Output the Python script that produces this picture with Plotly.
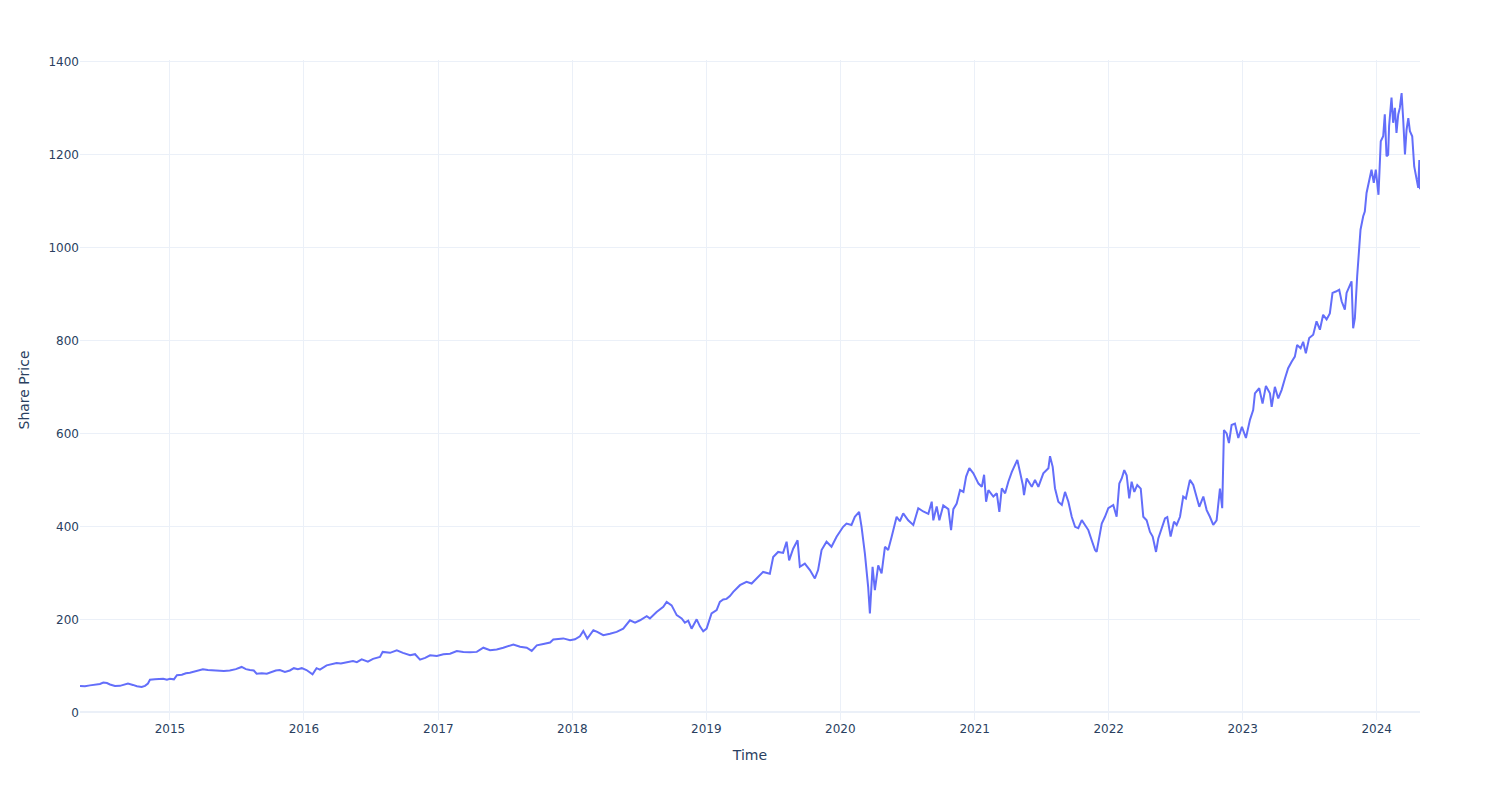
import pandas as pd
import plotly.graph_objects as go

# Decimal-year time stamps and share prices
years = [
    2014.329, 2014.366, 2014.403, 2014.441, 2014.478, 2014.503, 2014.530, 2014.553, 2014.590, 2014.627,
    2014.657, 2014.687, 2014.724, 2014.754, 2014.789, 2014.814, 2014.836, 2014.851, 2014.888, 2014.925,
    2014.950, 2014.978, 2015.000, 2015.030, 2015.052, 2015.089, 2015.119, 2015.149, 2015.186, 2015.224,
    2015.246, 2015.283, 2015.321, 2015.358, 2015.403, 2015.447, 2015.492, 2015.535, 2015.567, 2015.597,
    2015.626, 2015.647, 2015.686, 2015.723, 2015.761, 2015.790, 2015.820, 2015.858, 2015.895, 2015.925,
    2015.955, 2015.984, 2016.019, 2016.044, 2016.064, 2016.094, 2016.119, 2016.169, 2016.201, 2016.243,
    2016.275, 2016.318, 2016.365, 2016.394, 2016.430, 2016.476, 2016.514, 2016.566, 2016.586, 2016.641,
    2016.691, 2016.737, 2016.790, 2016.827, 2016.864, 2016.902, 2016.939, 2016.989, 2017.038, 2017.088,
    2017.138, 2017.187, 2017.237, 2017.287, 2017.336, 2017.386, 2017.436, 2017.485, 2017.560, 2017.610,
    2017.660, 2017.697, 2017.735, 2017.784, 2017.834, 2017.858, 2017.933, 2017.983, 2018.020, 2018.057,
    2018.082, 2018.112, 2018.157, 2018.186, 2018.231, 2018.281, 2018.331, 2018.380, 2018.430, 2018.468,
    2018.505, 2018.555, 2018.579, 2018.629, 2018.679, 2018.704, 2018.741, 2018.779, 2018.816, 2018.840,
    2018.865, 2018.890, 2018.928, 2018.952, 2018.977, 2019.002, 2019.039, 2019.077, 2019.101, 2019.126,
    2019.151, 2019.176, 2019.201, 2019.251, 2019.300, 2019.338, 2019.362, 2019.400, 2019.424, 2019.474,
    2019.499, 2019.536, 2019.573, 2019.599, 2019.618, 2019.648, 2019.681, 2019.698, 2019.735, 2019.773,
    2019.810, 2019.834, 2019.860, 2019.897, 2019.934, 2019.972, 2020.021, 2020.046, 2020.083, 2020.108,
    2020.140, 2020.158, 2020.183, 2020.207, 2020.220, 2020.240, 2020.257, 2020.282, 2020.307, 2020.332,
    2020.356, 2020.382, 2020.393, 2020.419, 2020.443, 2020.468, 2020.505, 2020.543, 2020.580, 2020.617,
    2020.655, 2020.680, 2020.692, 2020.717, 2020.737, 2020.766, 2020.804, 2020.824, 2020.841, 2020.866,
    2020.891, 2020.916, 2020.936, 2020.960, 2020.990, 2021.028, 2021.053, 2021.070, 2021.085, 2021.102,
    2021.139, 2021.165, 2021.184, 2021.202, 2021.227, 2021.251, 2021.277, 2021.301, 2021.318, 2021.338,
    2021.359, 2021.368, 2021.388, 2021.426, 2021.450, 2021.475, 2021.512, 2021.550, 2021.562, 2021.582,
    2021.599, 2021.624, 2021.650, 2021.674, 2021.699, 2021.724, 2021.749, 2021.773, 2021.799, 2021.823,
    2021.848, 2021.873, 2021.898, 2021.910, 2021.930, 2021.948, 2021.972, 2021.997, 2022.034, 2022.059,
    2022.079, 2022.097, 2022.116, 2022.134, 2022.153, 2022.171, 2022.191, 2022.213, 2022.239, 2022.258,
    2022.283, 2022.308, 2022.328, 2022.353, 2022.370, 2022.395, 2022.420, 2022.437, 2022.462, 2022.487,
    2022.507, 2022.532, 2022.556, 2022.576, 2022.606, 2022.631, 2022.656, 2022.676, 2022.706, 2022.731,
    2022.755, 2022.780, 2022.805, 2022.830, 2022.847, 2022.860, 2022.880, 2022.897, 2022.917, 2022.942,
    2022.967, 2022.994, 2023.024, 2023.054, 2023.078, 2023.091, 2023.123, 2023.148, 2023.173, 2023.203,
    2023.216, 2023.240, 2023.265, 2023.290, 2023.315, 2023.339, 2023.365, 2023.389, 2023.406, 2023.432,
    2023.451, 2023.471, 2023.496, 2023.526, 2023.551, 2023.576, 2023.600, 2023.626, 2023.650, 2023.670,
    2023.695, 2023.720, 2023.738, 2023.762, 2023.775, 2023.794, 2023.812, 2023.824, 2023.837, 2023.854,
    2023.861, 2023.879, 2023.899, 2023.911, 2023.924, 2023.936, 2023.949, 2023.961, 2023.978, 2023.993,
    2024.013, 2024.030, 2024.048, 2024.060, 2024.073, 2024.085, 2024.092, 2024.110, 2024.122, 2024.135,
    2024.147, 2024.160, 2024.172, 2024.185, 2024.197, 2024.210, 2024.222, 2024.235, 2024.247, 2024.264,
    2024.279, 2024.297, 2024.309, 2024.317, 2024.322,
]

prices = [
    56.7, 56, 58, 59, 61, 64, 63, 60, 56.7, 57,
    60, 61.7, 59, 56, 54.5, 57, 62, 70, 71, 72,
    72, 70, 72, 71, 80, 81, 84, 85, 88, 90,
    92.6, 91, 90, 89, 89, 90, 93, 97.6, 93, 91,
    90, 83, 84, 83, 87, 90, 91, 87, 90, 95,
    93, 95, 91, 86, 81.8, 95, 92, 101, 103, 106,
    105, 107, 110.5, 108, 114, 109, 115, 119, 130, 128,
    133.5, 128, 122.7, 125, 113.4, 117, 122.7, 121, 125, 126,
    132, 130, 129, 130, 139, 133.5, 135, 139, 146, 141,
    139, 132, 144, 147, 150, 156.5, 159, 155, 157, 163.7,
    175, 158.7, 176.6, 173, 166, 169, 173, 180, 198, 193,
    198, 206.7, 202, 216, 227, 237.6, 230, 209, 202, 193,
    197, 180, 200, 185, 174.5, 180, 212.6, 220, 237.6, 242.6,
    244, 250, 259, 273.5, 280.6, 277, 284, 295, 302, 298,
    334, 345, 343, 367, 327, 352, 370, 313, 320, 306,
    288, 306, 349, 367, 356, 377.6, 399, 406, 403, 420.6,
    431, 399, 341, 270, 212.6, 313, 263, 316, 298.7, 356,
    349, 377.6, 392, 420.6, 411, 428, 413, 403, 439, 432,
    427, 453, 413, 443, 413, 445, 437, 392, 437, 449,
    478, 474, 507, 525, 514, 492, 485, 511, 453, 478,
    464, 471, 431, 482, 471, 496, 517, 532, 543, 517,
    489, 467, 503, 485, 500, 485, 514, 525, 551, 528,
    482, 453, 446, 474, 453, 420.6, 399, 396, 413.5, 403,
    392, 370, 349, 345, 381, 406, 420.6, 439, 446, 420.6,
    492, 503, 521, 510, 460, 496, 474, 489, 481, 420.6,
    413, 388, 378, 345, 374, 395, 417, 420, 378, 410,
    403, 420.6, 464, 460, 500, 489, 464, 442, 464, 435,
    420.6, 403, 413, 481, 439, 607, 600, 579, 618, 621,
    590, 614, 590, 629, 650, 686, 697, 664, 702, 686,
    657, 700, 675, 693, 718, 740, 754, 765, 790, 783,
    797, 772, 805, 812, 841, 823, 855, 845, 858, 902,
    905, 909, 884, 866, 902, 916, 927, 826, 848, 938,
    973, 1038, 1067, 1077, 1117, 1131, 1153, 1167, 1139, 1167,
    1113, 1228, 1239, 1286, 1196, 1199, 1261, 1322, 1268, 1300,
    1246, 1286, 1300, 1332, 1275, 1200, 1253, 1278, 1250, 1239,
    1174, 1146, 1128, 1188, 1125,
]


def to_date(y):
    yr = int(y)
    start = pd.Timestamp(year=yr, month=1, day=1)
    end = pd.Timestamp(year=yr + 1, month=1, day=1)
    return start + (end - start) * (y - yr)


dates = [to_date(y) for y in years]

fig = go.Figure(
    go.Scatter(x=dates, y=prices, mode="lines", line=dict(color="#636efa", width=2))
)

fig.update_layout(
    template="plotly_white",
    width=1500,
    height=800,
    margin=dict(l=80, r=80, t=60, b=80),
    font=dict(family="DejaVu Sans", color="#2a3f5f"),
    xaxis_title="Time",
    yaxis_title="Share Price",
    showlegend=False,
)

fig.write_html("out.html")
